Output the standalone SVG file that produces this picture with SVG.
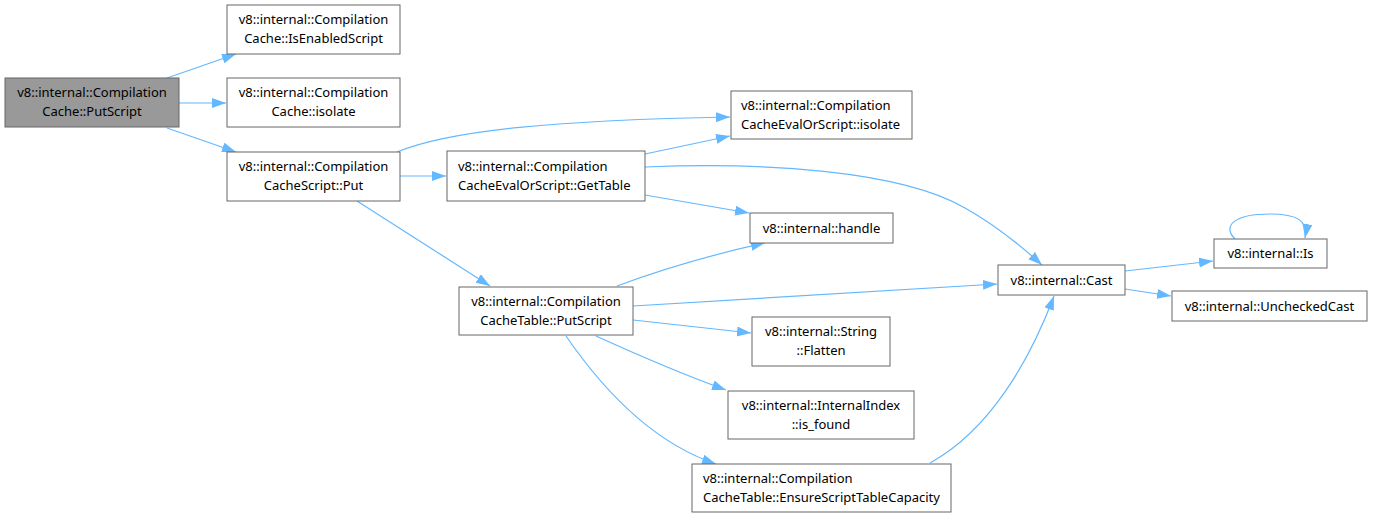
<svg xmlns="http://www.w3.org/2000/svg" width="1374" height="518" viewBox="0 0 1374 518">
<style>
.n rect{fill:#ffffff;stroke:#666666;stroke-width:1}
.n.g rect{fill:#999999}
.n text{font-family:"Noto Sans","Open Sans","DejaVu Sans",sans-serif;font-size:13px;fill:#000000;text-anchor:middle}
.n text.l{text-anchor:start}
.e path{fill:none;stroke:#63b8ff;stroke-width:1.2;marker-end:url(#ah)}
</style>
<defs>
<marker id="ah" markerUnits="userSpaceOnUse" markerWidth="15" markerHeight="12" refX="14" refY="5" orient="auto">
<path d="M0,0 L14,5 L0,10 z" fill="#63b8ff" stroke="none"/>
</marker>
</defs>
<rect width="1374" height="518" fill="#ffffff"/>
<g id="edges" class="e">
<path d="M167,78 L236,54"/>
<path d="M179,103 L226,103"/>
<path d="M167,128 L236,152"/>
<path d="M397,152 C450,130 560,120 730,117"/>
<path d="M400,176 L446,176"/>
<path d="M357,201 L490,286"/>
<path d="M645,154 L730,136"/>
<path d="M645,167 C760,162 900,170 965,208 C990,222 1020,245 1042,265"/>
<path d="M645,195 L749,213"/>
<path d="M617,286 C660,270 710,255 765,243"/>
<path d="M633,306 L997,284"/>
<path d="M633,320 L751,333"/>
<path d="M596,336 C640,356 690,377 726,390"/>
<path d="M566,336 C610,400 660,445 716,464"/>
<path d="M930,463 C990,430 1030,360 1054,296"/>
<path d="M1125,271 L1213,261"/>
<path d="M1125,289 L1171,296"/>
<path d="M1235,239 C1222,226 1234,214 1270,214 C1298,214 1308,221 1305,238"/>
</g>
<g id="n1" class="n g"><rect x="5" y="78" width="174" height="49"/><text x="92" y="97">v8::internal::Compilation</text><text x="92" y="116">Cache::PutScript</text></g>
<g id="n2" class="n"><rect x="227" y="5" width="173" height="49"/><text x="313.5" y="24">v8::internal::Compilation</text><text x="313.5" y="43">Cache::IsEnabledScript</text></g>
<g id="n3" class="n"><rect x="227" y="78" width="173" height="49"/><text x="313.5" y="97">v8::internal::Compilation</text><text x="313.5" y="116">Cache::isolate</text></g>
<g id="n4" class="n"><rect x="227" y="152" width="173" height="49"/><text x="313.5" y="171">v8::internal::Compilation</text><text x="313.5" y="190">CacheScript::Put</text></g>
<g id="n5" class="n"><rect x="731" y="91" width="181" height="48"/><text class="l" x="741" y="109.5">v8::internal::Compilation</text><text class="l" x="741" y="128.5">CacheEvalOrScript::isolate</text></g>
<g id="n6" class="n"><rect x="447" y="151" width="198" height="50"/><text class="l" x="458" y="170.5">v8::internal::Compilation</text><text class="l" x="458" y="189.5">CacheEvalOrScript::GetTable</text></g>
<g id="n7" class="n"><rect x="750" y="213" width="143" height="30"/><text x="821.5" y="232.5">v8::internal::handle</text></g>
<g id="n8" class="n"><rect x="459" y="287" width="174" height="48"/><text x="546" y="305.5">v8::internal::Compilation</text><text x="546" y="324.5">CacheTable::PutScript</text></g>
<g id="n9" class="n"><rect x="998" y="265" width="127" height="30"/><text x="1061.5" y="284.5">v8::internal::Cast</text></g>
<g id="n10" class="n"><rect x="1214" y="239" width="113" height="29"/><text x="1270.5" y="258">v8::internal::Is</text></g>
<g id="n11" class="n"><rect x="1172" y="291" width="195" height="30"/><text x="1269.5" y="310.5">v8::internal::UncheckedCast</text></g>
<g id="n12" class="n"><rect x="752" y="317" width="138" height="49"/><text x="821" y="336">v8::internal::String</text><text x="821" y="355">::Flatten</text></g>
<g id="n13" class="n"><rect x="728" y="391" width="186" height="48"/><text x="821" y="409.5">v8::internal::InternalIndex</text><text x="821" y="428.5">::is_found</text></g>
<g id="n14" class="n"><rect x="692" y="464" width="259" height="48"/><text class="l" x="703" y="482.5">v8::internal::Compilation</text><text class="l" x="703" y="501.5">CacheTable::EnsureScriptTableCapacity</text></g>
</svg>
